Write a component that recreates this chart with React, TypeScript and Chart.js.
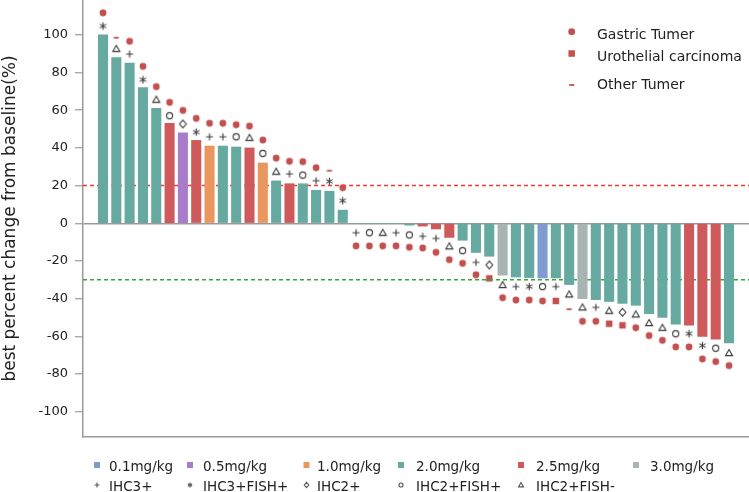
import React, { useEffect, useRef } from 'react';
import { Chart, registerables } from 'chart.js';

Chart.register(...registerables);

const FONT = "'DejaVu Sans', sans-serif";

// ---------------- data ----------------
const bestChange = [
  100, 88, 85, 72, 61, 53, 48, 44, 41, 41,
  40.5, 40, 32, 22.5, 21, 21, 17.5, 17, 7, 0,
  0, 0, 0, -1, -1.5, -3, -7.5, -9, -15.5, -17.5,
  -27.5, -28.5, -28.8, -29, -29, -32.5, -40, -40.5, -41.5, -42.5,
  -43.5, -48, -50, -53.5, -54, -60, -61.5, -63.5,
];

const doseGroup = [
  '2.0mg/kg', '2.0mg/kg', '2.0mg/kg', '2.0mg/kg', '2.0mg/kg', '2.5mg/kg', '0.5mg/kg', '2.5mg/kg', '1.0mg/kg', '2.0mg/kg',
  '2.0mg/kg', '2.5mg/kg', '1.0mg/kg', '2.0mg/kg', '2.5mg/kg', '2.0mg/kg', '2.0mg/kg', '2.0mg/kg', '2.0mg/kg', '2.0mg/kg',
  '2.0mg/kg', '2.0mg/kg', '2.0mg/kg', '2.0mg/kg', '2.5mg/kg', '2.5mg/kg', '2.5mg/kg', '2.0mg/kg', '2.0mg/kg', '2.0mg/kg',
  '3.0mg/kg', '2.0mg/kg', '2.0mg/kg', '0.1mg/kg', '2.0mg/kg', '2.0mg/kg', '3.0mg/kg', '2.0mg/kg', '2.0mg/kg', '2.0mg/kg',
  '2.0mg/kg', '2.0mg/kg', '2.0mg/kg', '2.0mg/kg', '2.5mg/kg', '2.5mg/kg', '2.5mg/kg', '2.0mg/kg',
];

const her2Status = [
  'IHC3+FISH+', 'IHC2+FISH-', 'IHC3+', 'IHC3+FISH+', 'IHC2+FISH-', 'IHC2+FISH+', 'IHC2+', 'IHC3+FISH+', 'IHC3+', 'IHC3+',
  'IHC2+FISH+', 'IHC2+FISH-', 'IHC2+FISH+', 'IHC2+FISH-', 'IHC3+', 'IHC2+FISH+', 'IHC3+', 'IHC3+FISH+', 'IHC3+FISH+', 'IHC3+',
  'IHC2+FISH+', 'IHC2+FISH-', 'IHC3+', 'IHC2+FISH+', 'IHC3+', 'IHC3+', 'IHC2+FISH-', 'IHC2+FISH+', 'IHC3+', 'IHC2+',
  'IHC2+FISH-', 'IHC3+', 'IHC3+FISH+', 'IHC2+FISH+', 'IHC3+', 'IHC2+FISH-', 'IHC2+FISH-', 'IHC3+', 'IHC2+FISH-', 'IHC2+',
  'IHC2+FISH-', 'IHC2+FISH-', 'IHC2+FISH-', 'IHC2+FISH+', 'IHC3+FISH+', 'IHC3+FISH+', 'IHC2+FISH+', 'IHC2+FISH-',
];

const her2MarkY = [
  104.7, 92.6, 89.8, 76.2, 65.6, 57.1, 52.7, 48.4, 45.9, 45.9,
  45.9, 45.4, 37.1, 27.4, 26.2, 25.6, 22.6, 22.3, 12.0, -5,
  -5, -5, -5, -6.2, -6.9, -8, -12.2, -14.5, -20.7, -22.1,
  -32.7, -33.6, -33.6, -33.6, -33.6, -37.7, -44.6, -44.6, -46.4, -47.2,
  -48.3, -52.9, -55.4, -58.6, -58.6, -64.9, -66.3, -68.8,
];

const tumorType = [
  'Gastric Tumer', 'Other Tumer', 'Gastric Tumer', 'Gastric Tumer', 'Gastric Tumer', 'Gastric Tumer', 'Gastric Tumer', 'Gastric Tumer', 'Gastric Tumer', 'Gastric Tumer',
  'Gastric Tumer', 'Gastric Tumer', 'Gastric Tumer', 'Gastric Tumer', 'Gastric Tumer', 'Gastric Tumer', 'Gastric Tumer', 'Other Tumer', 'Gastric Tumer', 'Gastric Tumer',
  'Gastric Tumer', 'Gastric Tumer', 'Gastric Tumer', 'Gastric Tumer', 'Gastric Tumer', 'Gastric Tumer', 'Gastric Tumer', 'Gastric Tumer', 'Gastric Tumer', 'Urothelial carcinoma',
  'Gastric Tumer', 'Gastric Tumer', 'Gastric Tumer', 'Gastric Tumer', 'Urothelial carcinoma', 'Other Tumer', 'Gastric Tumer', 'Gastric Tumer', 'Urothelial carcinoma', 'Urothelial carcinoma',
  'Gastric Tumer', 'Gastric Tumer', 'Gastric Tumer', 'Gastric Tumer', 'Gastric Tumer', 'Gastric Tumer', 'Gastric Tumer', 'Gastric Tumer',
];

const tumorMarkY = [
  111.7, 98.5, 96.6, 83.3, 72.5, 64.2, 59.9, 55.7, 53.1, 53.1,
  52.3, 51.6, 44.2, 34.6, 32.9, 32.7, 29.5, 27.9, 18.9, -12,
  -12, -12, -12, -12.7, -13.1, -15.4, -19.3, -21.2, -27.3, -29.2,
  -39.5, -40.7, -40.7, -41.2, -41.2, -45.6, -52, -52, -53.3, -54.1,
  -55.4, -59.6, -62.1, -65.6, -65.6, -72, -73.4, -75.5,
];

const doseLabels = ['0.1mg/kg', '0.5mg/kg', '1.0mg/kg', '2.0mg/kg', '2.5mg/kg', '3.0mg/kg'];
const her2Labels = ['IHC3+', 'IHC3+FISH+', 'IHC2+', 'IHC2+FISH+', 'IHC2+FISH-'];
const tumorLabels = ['Gastric Tumer', 'Urothelial carcinoma', 'Other Tumer'];
const yTickValues = [-100, -80, -60, -40, -20, 0, 20, 40, 60, 80, 100];
const progressionLine = 20;
const responseLine = -30;
const yTitle = 'best percent change from baseline(%)';

// ---------------- styles ----------------
const doseColors: Record<string, string> = {
  '0.1mg/kg': '#7F9BD1',
  '0.5mg/kg': '#A97CC9',
  '1.0mg/kg': '#E9975F',
  '2.0mg/kg': '#66A9A1',
  '2.5mg/kg': '#CF5A5B',
  '3.0mg/kg': '#A8B4B4',
};
const TUMOR_COLOR = '#C2504F';
const HER2_COLOR = '#3a3a3a';
const her2Size: Record<string, number> = {
  'IHC3+': 7,
  'IHC3+FISH+': 7.5,
  'IHC2+': 7.5,
  'IHC2+FISH+': 7.5,
  'IHC2+FISH-': 7,
};
const tumorSize: Record<string, number> = {
  'Gastric Tumer': 6.8,
  'Urothelial carcinoma': 6.5,
  'Other Tumer': 5,
};

function drawMark(ctx: CanvasRenderingContext2D, kind: string, x: number, y: number, s: number, strokeColor = HER2_COLOR) {
  ctx.save();
  ctx.lineWidth = 1.1;
  ctx.strokeStyle = strokeColor;
  ctx.fillStyle = TUMOR_COLOR;
  const h = s / 2;
  ctx.beginPath();
  switch (kind) {
    case 'IHC3+':
      ctx.moveTo(x - h, y); ctx.lineTo(x + h, y);
      ctx.moveTo(x, y - h); ctx.lineTo(x, y + h);
      ctx.stroke();
      break;
    case 'IHC3+FISH+':
      for (const a of [90, 30, 150]) {
        const r = (a * Math.PI) / 180;
        ctx.moveTo(x - h * Math.cos(r), y - h * Math.sin(r));
        ctx.lineTo(x + h * Math.cos(r), y + h * Math.sin(r));
      }
      ctx.stroke();
      break;
    case 'IHC2+':
      ctx.moveTo(x, y - h * 1.05); ctx.lineTo(x + h * 0.9, y); ctx.lineTo(x, y + h * 1.05); ctx.lineTo(x - h * 0.9, y);
      ctx.closePath(); ctx.stroke();
      break;
    case 'IHC2+FISH+':
      ctx.arc(x, y, h * 0.82, 0, Math.PI * 2); ctx.stroke();
      break;
    case 'IHC2+FISH-':
      ctx.moveTo(x, y - h); ctx.lineTo(x + h, y + h * 0.75); ctx.lineTo(x - h, y + h * 0.75);
      ctx.closePath(); ctx.stroke();
      break;
    case 'Gastric Tumer':
      ctx.arc(x, y, h, 0, Math.PI * 2); ctx.fill();
      break;
    case 'Urothelial carcinoma':
      ctx.fillRect(x - h, y - h, s, s);
      break;
    case 'Other Tumer':
      ctx.fillRect(x - h, y - 0.9, s, 1.8);
      break;
  }
  ctx.restore();
}

function makeSymbol(kind: string, s: number): HTMLCanvasElement {
  const n = Math.ceil(s) + 5;
  const c = document.createElement('canvas');
  c.width = n; c.height = n;
  const cx = c.getContext('2d') as CanvasRenderingContext2D;
  drawMark(cx, kind, n / 2, n / 2, s);
  return c;
}

const legendPlugin = {
  id: 'customLegends',
  afterDraw(chart: any) {
    const ctx: CanvasRenderingContext2D = chart.ctx;
    ctx.save();
    ctx.textBaseline = 'alphabetic';
    ctx.textAlign = 'left';
    ctx.fillStyle = '#222';
    // top-right legend: tumour type
    const topRows = [
      { y: 31.7, base: 39 },
      { y: 53.5, base: 60.7 },
      { y: 85, base: 89 },
    ];
    ctx.font = `14px ${FONT}`;
    tumorLabels.forEach((lab, i) => {
      drawMark(ctx, lab, 571.7, topRows[i].y, tumorSize[lab]);
      ctx.fillStyle = '#222';
      ctx.fillText(lab, 597, topRows[i].base);
    });
    // bottom legend: dose groups and HER2 status
    const markX = [97, 190, 306.5, 401, 521, 636];
    const textX = [109, 203, 317, 416, 536, 650];
    ctx.font = `13.5px ${FONT}`;
    doseLabels.forEach((lab, i) => {
      ctx.fillStyle = doseColors[lab];
      ctx.fillRect(markX[i] - 3, 462, 6, 6);
      ctx.fillStyle = '#222';
      ctx.fillText(lab, textX[i], 470.5);
    });
    her2Labels.forEach((lab, i) => {
      drawMark(ctx, lab, markX[i], 485, 5, '#555');
      ctx.fillStyle = '#222';
      ctx.fillText(lab, textX[i], 490.5);
    });
    ctx.restore();
  },
};

export default function App() {
  const ref = useRef<HTMLCanvasElement | null>(null);

  useEffect(() => {
    if (!ref.current) return;
    const idx = bestChange.map((_, i) => i + 1);

    const her2Sets = her2Labels.map((lab) => ({
      type: 'scatter' as const,
      label: lab,
      data: idx.filter((_, i) => her2Status[i] === lab).map((x) => ({ x, y: her2MarkY[x - 1] })),
      pointStyle: makeSymbol(lab, her2Size[lab]),
      pointRadius: 4,
      pointHoverRadius: 4,
    }));
    const tumorSets = tumorLabels.map((lab) => ({
      type: 'scatter' as const,
      label: lab,
      data: idx.filter((_, i) => tumorType[i] === lab).map((x) => ({ x, y: tumorMarkY[x - 1] })),
      pointStyle: makeSymbol(lab, tumorSize[lab]),
      pointRadius: 4,
      pointHoverRadius: 4,
    }));

    const chart = new Chart(ref.current, {
      type: 'bar',
      data: {
        datasets: [
          {
            type: 'bar',
            label: 'best change',
            data: idx.map((x) => ({ x, y: bestChange[x - 1] })),
            backgroundColor: doseGroup.map((d) => doseColors[d]),
            borderWidth: 0,
            barThickness: 9.4,
          } as any,
          {
            type: 'line',
            label: 'PD',
            data: [{ x: -0.5, y: progressionLine }, { x: 49.5, y: progressionLine }],
            borderColor: '#F23A3A',
            borderWidth: 1.5,
            borderDash: [4, 3],
            pointRadius: 0,
          },
          {
            type: 'line',
            label: 'PR',
            data: [{ x: -0.5, y: responseLine }, { x: 49.5, y: responseLine }],
            borderColor: '#36A836',
            borderWidth: 1.5,
            borderDash: [4, 3],
            pointRadius: 0,
          },
          ...her2Sets,
          ...tumorSets,
        ] as any,
      },
      options: {
        animation: false,
        responsive: false,
        devicePixelRatio: 1,
        layout: { padding: 0, autoPadding: false },
        plugins: { legend: { display: false }, tooltip: { enabled: false } },
        scales: {
          x: {
            type: 'linear',
            offset: false,
            min: -0.5,
            max: 49.5,
            afterFit: (s: any) => {
              s.height = 55;
              s.paddingLeft = 0; s.paddingRight = 0; s.paddingTop = 0; s.paddingBottom = 0;
            },
            ticks: { display: false },
            grid: { display: false, drawTicks: false, offset: false },
            border: { display: true, color: '#9a9a9a', width: 1.5 },
          },
          y: {
            min: -113.4,
            max: 118.5,
            afterBuildTicks: (s: any) => { s.ticks = yTickValues.map((v) => ({ value: v })); },
            afterFit: (s: any) => {
              s.width = 83;
              s.paddingLeft = 0; s.paddingRight = 0; s.paddingTop = 0; s.paddingBottom = 0;
            },
            ticks: { padding: 7, color: '#222', font: { family: FONT, size: 13 } },
            grid: {
              drawOnChartArea: true,
              color: (c: any) => (c.tick && c.tick.value === 0 ? '#9a9a9a' : 'rgba(0,0,0,0)'),
              lineWidth: 1.5,
              tickLength: 8,
              tickColor: '#9a9a9a',
              tickWidth: 1.2,
            },
            border: { display: true, color: '#9a9a9a', width: 1.5 },
            title: { display: true, text: yTitle, color: '#222', font: { family: FONT, size: 17 }, padding: 0 },
          },
        },
      } as any,
      plugins: [legendPlugin],
    });
    return () => chart.destroy();
  }, []);

  return (
    <div style={{ position: 'absolute', left: 0, top: 0, width: 749, height: 492, background: '#fff' }}>
      <canvas ref={ref} width={749} height={492} style={{ display: 'block' }} />
    </div>
  );
}
